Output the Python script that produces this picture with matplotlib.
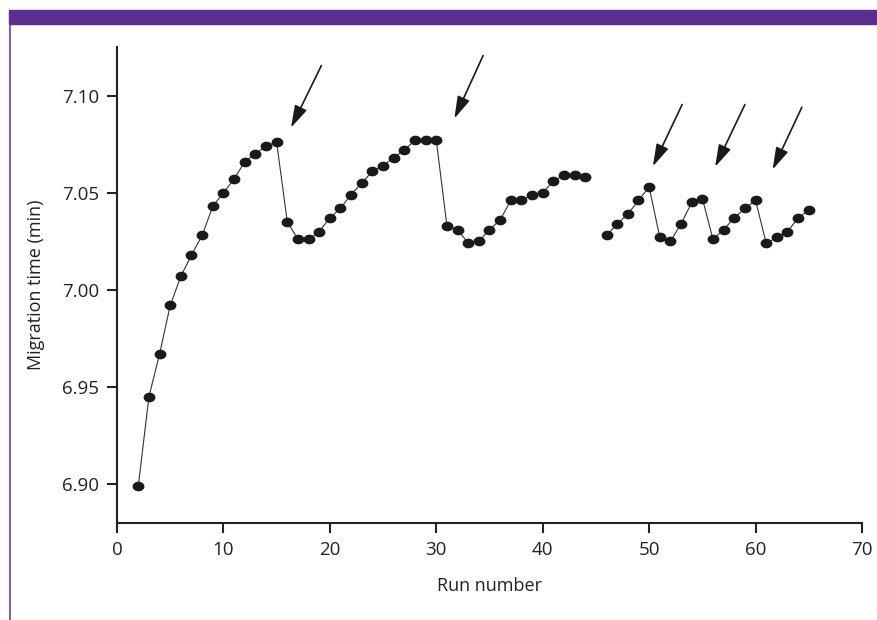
import matplotlib
matplotlib.use("Agg")
import matplotlib.pyplot as plt
from matplotlib.path import Path
import numpy as np

plt.rcParams['font.family'] = ['Open Sans', 'DejaVu Sans']

# run numbers and migration times (min); run 45 is missing
runs = list(range(2, 45)) + list(range(46, 66))
times = [6.899, 6.945, 6.967, 6.992, 7.007, 7.018, 7.028, 7.043, 7.050,
         7.057, 7.066, 7.070, 7.074, 7.076, 7.035, 7.026, 7.026, 7.030,
         7.037, 7.042, 7.049, 7.055, 7.061, 7.064, 7.068, 7.072, 7.077,
         7.077, 7.077, 7.033, 7.031, 7.024, 7.025, 7.031, 7.036, 7.046,
         7.046, 7.049, 7.050, 7.056, 7.059, 7.059, 7.058,
         7.028, 7.034, 7.039, 7.046, 7.053, 7.027, 7.025, 7.034, 7.045,
         7.047, 7.026, 7.031, 7.037, 7.042, 7.046, 7.024, 7.027, 7.030,
         7.037, 7.041]

# arrows: (tail x, tail y, head x, head y)
arrows = [(19.2, 7.1154, 16.35, 7.0835),
          (34.4, 7.1206, 31.7, 7.0882),
          (53.1, 7.0954, 50.35, 7.0636),
          (59.0, 7.0954, 56.2, 7.0633),
          (64.35, 7.094, 61.6, 7.0619)]

xticks = [0, 10, 20, 30, 40, 50, 60, 70]
yticks = [6.90, 6.95, 7.00, 7.05, 7.10]

# slightly wide elliptical dot, like the printed markers
t = np.linspace(0, 2 * np.pi, 40)
ellipse = Path(np.column_stack([np.cos(t), 0.82 * np.sin(t)]), closed=True)

fig = plt.figure(figsize=(8.78, 6.2), dpi=100)

# purple header bar and left rule
fig.patches.append(plt.Rectangle((9 / 878, 1 - 24 / 620), 1, 14 / 620,
                                 transform=fig.transFigure, color='#5b2d8e', zorder=0))
fig.lines.append(plt.Line2D([10.5 / 878, 10.5 / 878], [0, 1 - 24 / 620],
                            transform=fig.transFigure, color='#6a3cc0', lw=1.2))

ax = fig.add_axes([117 / 878, 1 - 523 / 620, (862 - 117) / 878, (523 - 47) / 620])

# split the series at the missing run so the line breaks there
seg1 = [(r, v) for r, v in zip(runs, times) if r < 45]
seg2 = [(r, v) for r, v in zip(runs, times) if r > 45]
for seg in (seg1, seg2):
    xs, ys = zip(*seg)
    ax.plot(xs, ys, '-', color='#333333', lw=0.8)
    ax.plot(xs, ys, ls='none', marker=ellipse, color='#1a1a1a', ms=8.5, mec='none')

for x0, y0, x1, y1 in arrows:
    ax.annotate('', xy=(x1, y1), xytext=(x0, y0),
                arrowprops=dict(arrowstyle='-|>,head_width=0.22,head_length=0.75',
                                color='#1a1a1a', lw=1.2,
                                mutation_scale=18, shrinkA=0, shrinkB=0))

ax.set_xlim(0, 70)
ax.set_ylim(6.88, 7.125)
ax.set_xticks(xticks)
ax.set_yticks(yticks)
ax.set_yticklabels([f"{v:.2f}" for v in yticks])
ax.spines['top'].set_visible(False)
ax.spines['right'].set_visible(False)
for s in ('left', 'bottom'):
    ax.spines[s].set_linewidth(1.5)
    ax.spines[s].set_color('#222222')
ax.tick_params(direction='out', length=7, width=1.5, labelsize=13.5,
               colors='#222222', pad=6)
ax.set_xlabel('Run number', fontsize=13, color='#222222', labelpad=13)
ax.set_ylabel('Migration time (min)', fontsize=13, color='#222222', labelpad=12)

fig.savefig('out.png', dpi=100)
